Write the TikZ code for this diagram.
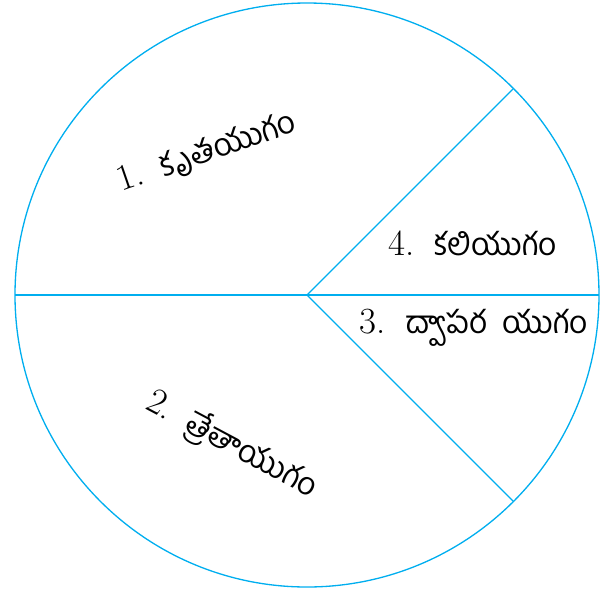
\documentclass[tikz,border=0pt]{standalone}
\usepackage{fontspec}
\usetikzlibrary{calc}
\newfontfamily\te[Script=Telugu]{Hind Guntur}
\definecolor{cyanline}{RGB}{0,174,239}
\tikzset{
  seg/.style={draw=cyanline, line width=0.75pt},
  lbl/.style={font=\fontsize{18}{22}\selectfont, inner sep=0pt}
}
\newcommand{\numlbl}[1]{{\fontsize{21}{22}\selectfont #1}}
\begin{document}
\begin{tikzpicture}[x=0.02cm, y=-0.02cm]
\useasboundingbox (0,0) rectangle (600,593);
\coordinate (c) at (307,295);
\coordinate (w) at (15,295);
\coordinate (e) at (599,295);
\coordinate (ne) at ($(c)+(-45:292)$);
\coordinate (se) at ($(c)+(45:292)$);
\draw[seg] (c) circle[radius=292];
\draw[seg] (w) -- (e);
\draw[seg] (c) -- (ne);
\draw[seg] (c) -- (se);
\node[lbl, rotate=19] (l1) at (207,153) {\numlbl{1.}\ \ {\te కృతయుగం}};
\node[lbl, rotate=-28] (l2) at (232,445) {\numlbl{2.}\ \ {\te త్రేతాయుగం}};
\node[lbl] (l3) at (474,328) {\numlbl{3.}\ \ {\te ద్వాపర\ \ యుగం}};
\node[lbl] (l4) at (473,243) {\numlbl{4.}\ \ {\te కలియుగం}};
\end{tikzpicture}
\end{document}
